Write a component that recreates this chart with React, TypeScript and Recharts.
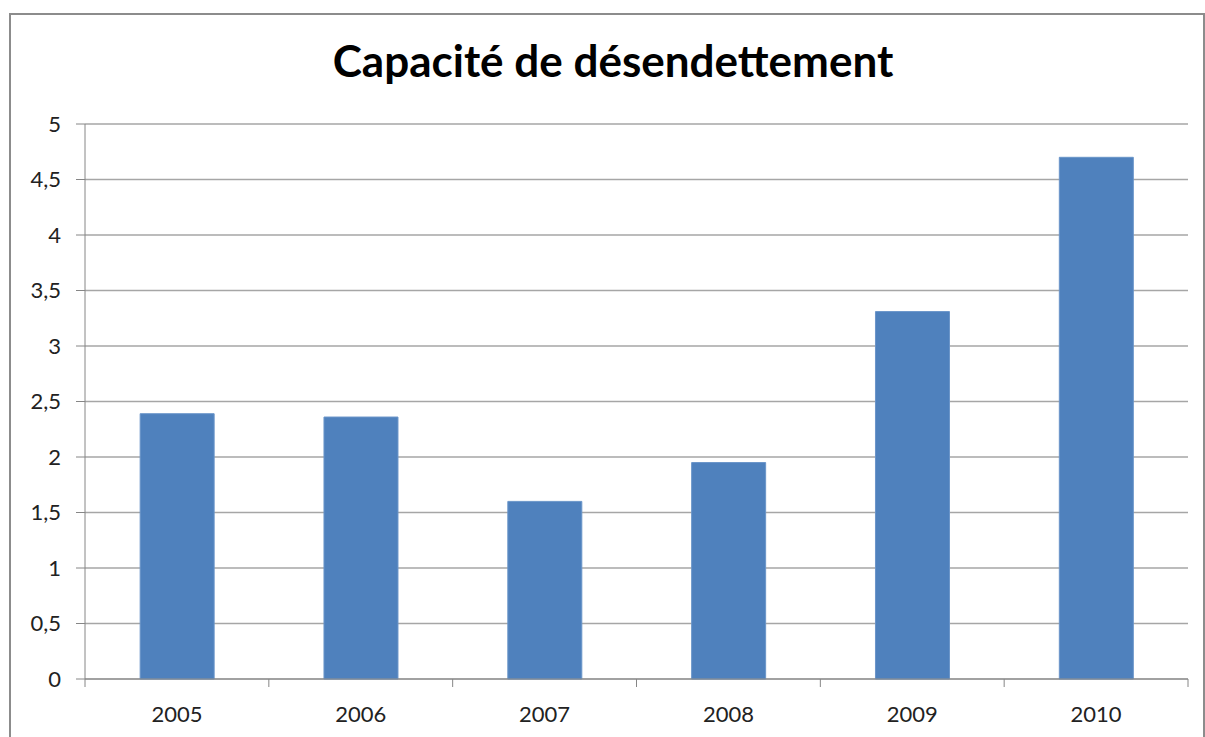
import { BarChart, Bar, XAxis, YAxis, CartesianGrid } from 'recharts'

const years = ['2005', '2006', '2007', '2008', '2009', '2010']
const capacity = [2.39, 2.36, 1.6, 1.95, 3.31, 4.7]
const yTicks = [0, 0.5, 1, 1.5, 2, 2.5, 3, 3.5, 4, 4.5, 5]

const data = years.map((year, i) => ({ year, capacity: capacity[i] }))

const FONT = 'Lato, "Open Sans", sans-serif'
const PLOT_LEFT = 85
const PLOT_RIGHT = 1188
const BAND = (PLOT_RIGHT - PLOT_LEFT) / years.length

// Excel-style category axis: tick marks sit between the categories, not under them
function YearTick(props: any) {
  const { x, y, payload, index } = props
  const left = x - BAND / 2
  return (
    <g>
      <line x1={left} y1={y - 8} x2={left} y2={y} stroke="#868686" />
      {index === years.length - 1 && (
        <line x1={left + BAND} y1={y - 8} x2={left + BAND} y2={y} stroke="#868686" />
      )}
      <text x={x} y={y + 35} textAnchor="middle" fontSize={22} fill="#222" fontFamily={FONT}>
        {payload.value}
      </text>
    </g>
  )
}

export default function App() {
  return (
    <div style={{ position: 'absolute', left: 0, top: 0, width: 1205, height: 737, overflow: 'hidden', background: '#fff' }}>
      <div
        style={{
          position: 'absolute',
          left: 9,
          top: 13,
          width: 1192,
          height: 760,
          border: '2px solid #8c8c8c',
        }}
      />
      <div
        style={{
          position: 'absolute',
          left: 0,
          top: 34,
          width: 1226,
          textAlign: 'center',
          fontFamily: FONT,
          fontWeight: 'bold',
          fontSize: 44,
          color: '#000',
        }}
      >
        Capacité de désendettement
      </div>
      <div style={{ position: 'absolute', left: 0, top: 0 }}>
        <BarChart
          width={1205}
          height={737}
          data={data}
          margin={{ top: 124, right: 1205 - PLOT_RIGHT, left: PLOT_LEFT - 70, bottom: 0 }}
          barCategoryGap="30%"
        >
          <CartesianGrid vertical={false} stroke="#a6a6a6" strokeWidth={1.5} />
          <XAxis
            dataKey="year"
            height={58}
            axisLine={{ stroke: '#868686' }}
            tickLine={false}
            tick={<YearTick />}
            interval={0}
          />
          <YAxis
            width={70}
            domain={[0, 5]}
            ticks={yTicks}
            interval={0}
            tickFormatter={(v: number) => String(v).replace('.', ',')}
            tick={{ fontSize: 22, fill: '#222', fontFamily: FONT }}
            tickSize={9}
            tickMargin={15}
            axisLine={{ stroke: '#868686' }}
            tickLine={{ stroke: '#868686' }}
          />
          <Bar dataKey="capacity" fill="#4f81bd" stroke="#6a95c9" strokeWidth={1} isAnimationActive={false} />
        </BarChart>
      </div>
    </div>
  )
}
